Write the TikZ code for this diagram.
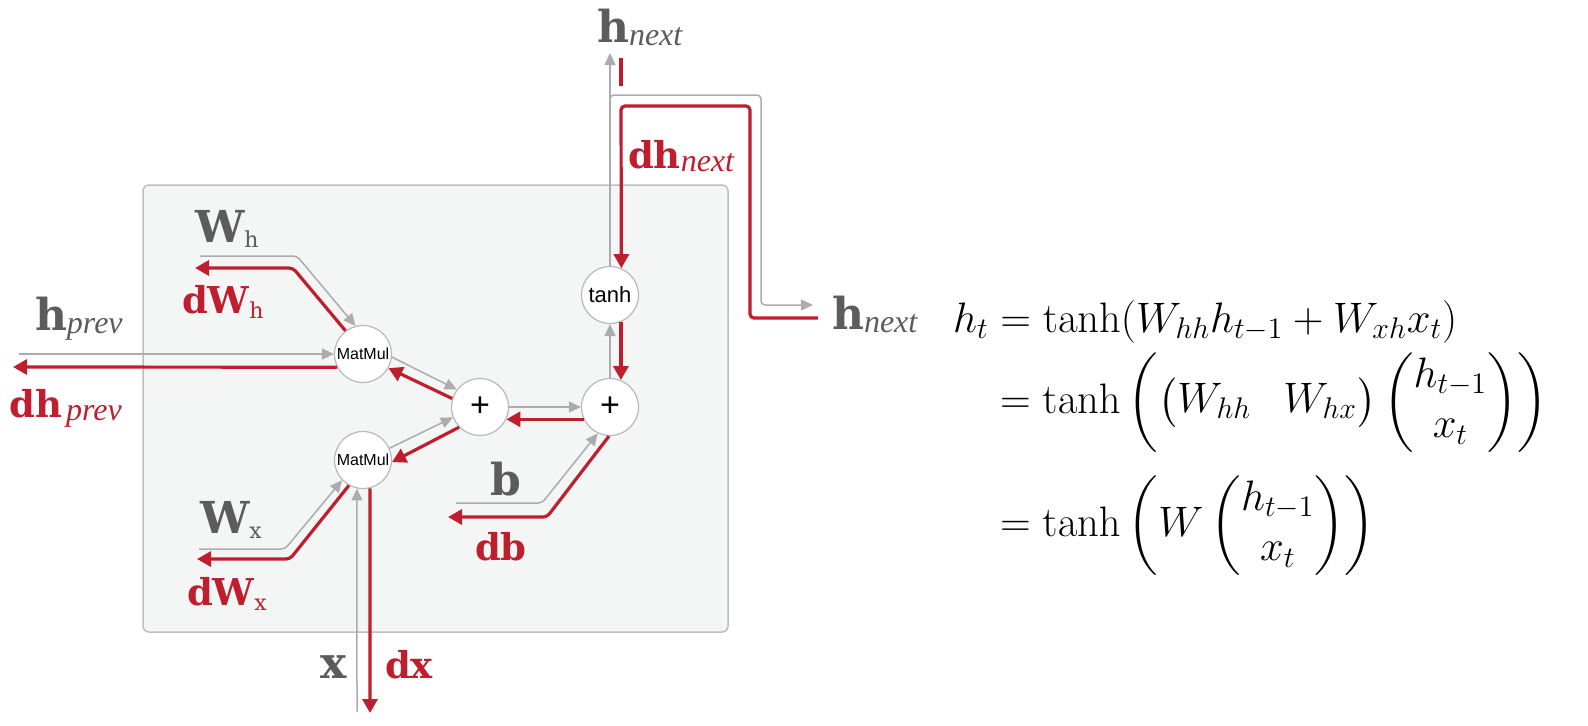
\RequirePackage{fix-cm}
\documentclass[tikz,border=0pt]{standalone}
\usepackage{amsmath}
\usepackage{exscale}
\usepackage[no-math]{fontspec}
\setmainfont{DejaVu Serif}
\newfontfamily\sansf{Liberation Sans}
\newfontfamily\subf{Liberation Serif}
\usetikzlibrary{arrows.meta}
\definecolor{myred}{RGB}{190,30,45}
\definecolor{lgray}{RGB}{172,172,172}
\definecolor{tgray}{RGB}{92,92,92}
\definecolor{boxfill}{RGB}{244,246,245}
\definecolor{boxdraw}{RGB}{190,190,190}
\definecolor{circdraw}{RGB}{185,185,185}
\newcommand{\gbig}[1]{{\fontsize{22}{24}\selectfont\bfseries #1}}
\newcommand{\rbig}[1]{{\fontsize{18.5}{20}\selectfont\bfseries #1}}
\newcommand{\subit}[1]{\raisebox{-1.5pt}{\subf\fontsize{16}{17}\selectfont\itshape #1}}
\newcommand{\subup}[1]{\raisebox{-2.5pt}{\fontsize{11}{12}\selectfont #1}}
\newcommand{\eqfont}{\fontsize{21.3}{25.3}\selectfont}
\begin{document}
\begin{tikzpicture}[x=0.5pt,y=-0.5pt,
  gline/.style={draw=lgray, line width=0.75pt, rounded corners=2pt},
  rline/.style={draw=myred, line width=1.6pt, rounded corners=2pt},
  garr/.style={-{Triangle[length=6pt,width=5.5pt]}},
  rarr/.style={-{Triangle[length=7pt,width=7.5pt]}},
  op/.style={circle, draw=circdraw, fill=white, line width=0.6pt, minimum size=28.5pt, inner sep=0pt},
  lab/.style={anchor=base west, inner sep=0pt, outer sep=0pt},
  glab/.style={lab, text=tgray},
  rlab/.style={lab, text=myred}]
\useasboundingbox (0,0) rectangle (1588,725);
\draw[fill=boxfill, draw=boxdraw, line width=0.75pt, rounded corners=3pt] (143,185) rectangle (728,632);

% operation nodes
\node[op] (tanh) at (610,295) {\sansf\fontsize{11}{11}\selectfont tanh};
\node[op] (mm1) at (363,354) {\sansf\fontsize{8}{8}\selectfont MatMul};
\node[op] (mm2) at (363,460) {\sansf\fontsize{8}{8}\selectfont MatMul};
\node[op] (p1) at (480,407) {\sansf\fontsize{17}{17}\selectfont +};
\node[op] (p2) at (610,407) {\sansf\fontsize{17}{17}\selectfont +};

% free ends
\coordinate (hnT) at (610,53);
\coordinate (hnR) at (813,305);
\coordinate (dhnR) at (818,318);
\coordinate (stubA) at (621,58);
\coordinate (stubB) at (621,86);
\coordinate (hpS) at (19,354);
\coordinate (dhpE) at (13,367);
\coordinate (whS) at (200,256);
\coordinate (dwhE) at (195,268);
\coordinate (wxS) at (199,549);
\coordinate (dwxE) at (197,559);
\coordinate (bS) at (456,503);
\coordinate (dbE) at (448,517);
\coordinate (xS) at (357,712);
\coordinate (dxE) at (370,713);

% gray forward connectors
\draw[gline,garr] (tanh.north) -- (hnT);
\draw[gline,garr] (tanh.north) -- (610,95) -- (761,95) -- (761,305) -- (hnR);
\draw[gline,garr] (hpS) -- (mm1.west);
\draw[gline,garr] (whS) -- (297,256) -- (mm1.105);
\draw[gline,garr] (mm1.-6) -- (p1.143);
\draw[gline,garr] (mm2.24) -- (p1.201);
\draw[gline,garr] (p1.east) -- (p2.west);
\draw[gline,garr] (bS) -- (542,503) -- (p2.245);
\draw[gline,garr] (p2.north) -- (tanh.south);
\draw[gline,garr] (wxS) -- (285,549) -- (mm2.224);
\draw[gline,garr] (xS) -- (mm2.258);

% red backward connectors
\draw[rline] (stubA) -- (stubB);
\draw[rline,rarr] (dhnR) -- (750,318) -- (750,106) -- (621,106) -- (tanh.67);
\draw[rline,rarr] (tanh.-68) -- (p2.68);
\draw[rline,rarr] (p2.205) -- (p1.-25);
\draw[rline,rarr] (p2.268) -- (547,517) -- (dbE);
\draw[rline,rarr] (p1.163) -- (mm1.-29);
\draw[rline,rarr] (p1.224) -- (mm2.-4);
\draw[rline,rarr] (mm1.207) -- (dhpE);
\draw[rline,rarr] (mm1.127) -- (293,268) -- (dwhE);
\draw[rline,rarr] (mm2.241) -- (290,559) -- (dwxE);
\draw[rline,rarr] (mm2.284) -- (dxE);

% labels
\node[glab] (lhnT) at (597,42) {\gbig{h}\subit{next}};
\node[rlab] (ldhn) at (628,168) {\rbig{dh}\subit{next}};
\node[glab] (lhnR) at (832,329) {\gbig{h}\subit{next}};
\node[glab] (lwh) at (195,242) {\gbig{W}\subup{h}};
\node[rlab] (ldwh) at (182,313) {\rbig{dW}\subup{h}};
\node[glab] (lhp) at (35,330) {\gbig{h}\subit{prev}};
\node[rlab] (ldhp) at (10,417) {\rbig{dh}\,\subit{prev}};
\node[glab] (lwx) at (200,533) {\gbig{W}\subup{x}};
\node[rlab] (ldwx) at (187,605) {\rbig{dW}\subup{x}};
\node[glab] (lb) at (490,495) {\gbig{b}};
\node[rlab] (ldb) at (475,560) {\rbig{db}};
\node[glab] (lx) at (320,678) {\gbig{x}};
\node[rlab] (ldx) at (385,678) {\rbig{dx}};

% equations
\node[lab] (eq1) at (953,332) {\eqfont $h_t = \tanh(W_{hh}h_{t-1}+W_{xh}x_t)$};
\node[lab] (eq2) at (1000,413) {\eqfont $\displaystyle = \tanh\left({\setlength{\arraycolsep}{8pt}\begin{pmatrix}W_{hh} & W_{hx}\end{pmatrix}}\begin{pmatrix}h_{t-1}\\ x_t\end{pmatrix}\right)$};
\node[lab] (eq3) at (1000,536) {\eqfont $\displaystyle = \tanh\left(W\begin{pmatrix}h_{t-1}\\ x_t\end{pmatrix}\right)$};
\end{tikzpicture}
\end{document}
